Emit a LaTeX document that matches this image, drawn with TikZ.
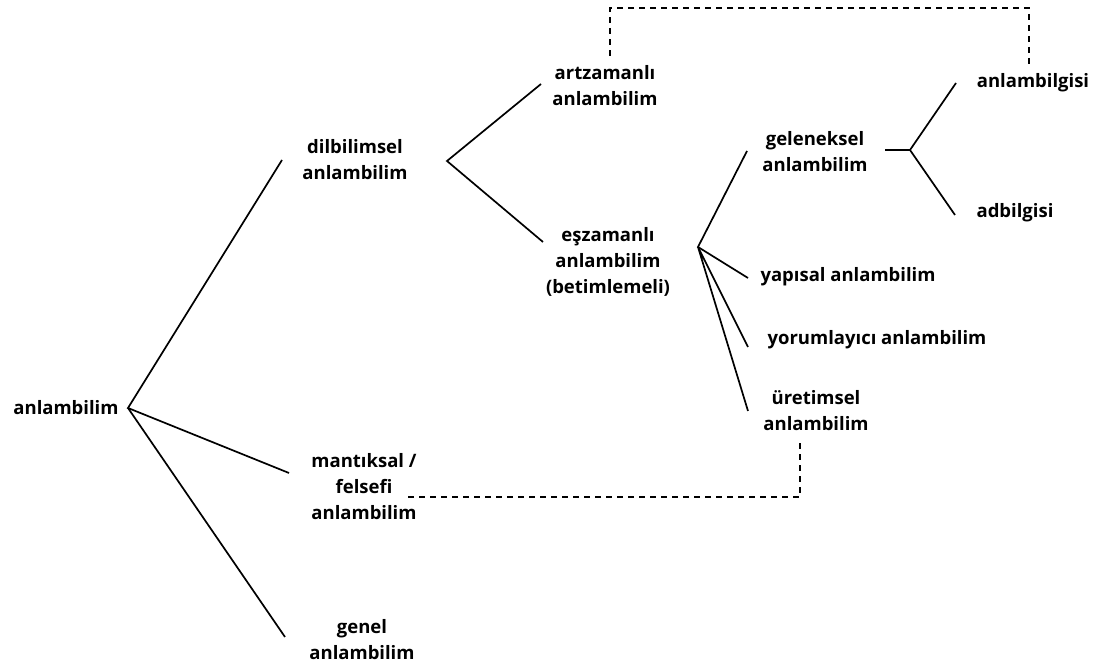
\documentclass[tikz,border=0pt]{standalone}
\usepackage{fontspec}
\setmainfont{Open Sans}
\begin{document}
\begin{tikzpicture}[x=1pt, y=1pt,
        lbl/.style={align=center, inner sep=0pt, font=\bfseries\fontsize{18.5}{26}\selectfont},
        branch/.style={line width=1.7pt},
        link/.style={line width=1.5pt, dash pattern=on 6pt off 5pt}]
        \useasboundingbox (0, 0) rectangle (1101, 669);
        \node[lbl] (root) at (66, 261) {anlambilim};
        \node[lbl] (dil) at (355, 509) {dilbilimsel\\anlambilim};
        \node[lbl] (man) at (364, 182) {mantıksal /\\felsefi\\anlambilim};
        \node[lbl] (gen) at (362, 29) {genel\\anlambilim};
        \node[lbl] (art) at (605, 583) {artzamanlı\\anlambilim};
        \node[lbl] (esz) at (608, 407) {eşzamanlı\\anlambilim\\(betimlemeli)};
        \node[lbl] (gel) at (815, 517) {geleneksel\\anlambilim};
        \node[lbl] (yap) at (848, 392) {yapısal anlambilim};
        \node[lbl] (yor) at (877, 329) {yorumlayıcı anlambilim};
        \node[lbl] (ure) at (816, 258) {üretimsel\\anlambilim};
        \node[lbl] (abg) at (1033, 586) {anlambilgisi};
        \node[lbl] (adb) at (1015, 456) {adbilgisi};
        \coordinate (h-root) at (128, 261);
        \coordinate (h-dil) at (447, 508);
        \coordinate (h-esz) at (698, 422);
        \coordinate (h-gel) at (910, 519);
        \coordinate (to-dil) at (282, 509);
        \coordinate (to-man) at (289, 196);
        \coordinate (to-gen) at (285, 32);
        \coordinate (to-art) at (541, 585);
        \coordinate (to-esz) at (543, 427);
        \coordinate (to-gel) at (747, 518);
        \coordinate (to-yap) at (748, 391);
        \coordinate (to-yor) at (748, 322);
        \coordinate (to-ure) at (748, 258);
        \coordinate (from-gel) at (885, 519);
        \coordinate (to-abg) at (956, 586);
        \coordinate (to-adb) at (955, 454);
        \coordinate (art-up) at (610, 613);
        \coordinate (abg-top) at (1029, 661);
        \coordinate (abg-up) at (1029, 604);
        \coordinate (man-out) at (408, 172);
        \coordinate (ure-down) at (800, 229);
        \draw[branch] (to-dil) -- (h-root) -- (to-man);
        \draw[branch] (h-root) -- (to-gen);
        \draw[branch] (to-art) -- (h-dil) -- (to-esz);
        \draw[branch] (to-gel) -- (h-esz) -- (to-yap);
        \draw[branch] (to-yor) -- (h-esz) -- (to-ure);
        \draw[branch] (from-gel) -- (h-gel);
        \draw[branch] (to-abg) -- (h-gel) -- (to-adb);
        \draw[link] (art-up) |- (abg-top) -- (abg-up);
        \draw[link] (man-out) -| (ure-down);
\end{tikzpicture}
\end{document}
